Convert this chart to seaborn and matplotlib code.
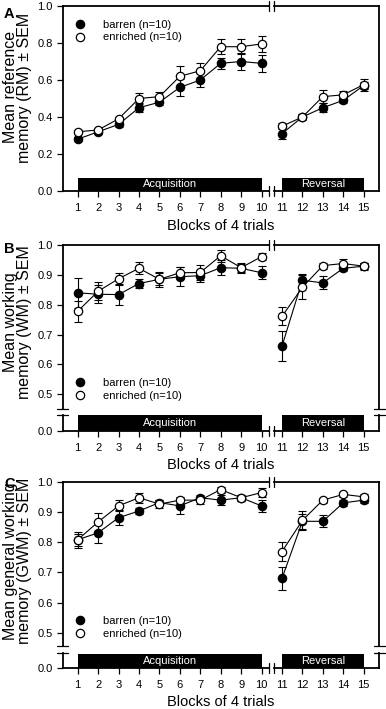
import numpy as np
import pandas as pd
import matplotlib
matplotlib.use("Agg")
import matplotlib.pyplot as plt
import seaborn as sns
from matplotlib.lines import Line2D

# ---------------- data ----------------
blocks = list(range(1, 16))
phase = ["Acquisition"] * 10 + ["Reversal"] * 5

rm_barren = [0.28, 0.32, 0.36, 0.45, 0.48, 0.56, 0.60, 0.69, 0.70, 0.69,
             0.31, 0.40, 0.45, 0.49, 0.57]
rm_barren_sem = [0.012, 0.010, 0.012, 0.023, 0.015, 0.045, 0.036, 0.030, 0.045, 0.045,
                 0.028, 0.015, 0.023, 0.015, 0.020]
rm_enriched = [0.32, 0.33, 0.39, 0.50, 0.51, 0.62, 0.65, 0.78, 0.78, 0.795,
               0.35, 0.40, 0.51, 0.52, 0.575]
rm_enriched_sem = [0.010, 0.010, 0.010, 0.030, 0.027, 0.054, 0.043, 0.041, 0.040, 0.045,
                   0.015, 0.010, 0.036, 0.022, 0.032]

wm_barren = [0.840, 0.835, 0.834, 0.871, 0.885, 0.894, 0.897, 0.924, 0.922, 0.907,
             0.661, 0.882, 0.873, 0.922, 0.929]
wm_barren_sem = [0.051, 0.030, 0.035, 0.015, 0.020, 0.033, 0.020, 0.025, 0.015, 0.022,
                 0.050, 0.020, 0.022, 0.010, 0.010]
wm_enriched = [0.778, 0.845, 0.887, 0.922, 0.885, 0.907, 0.908, 0.964, 0.924, 0.961,
               0.761, 0.858, 0.931, 0.938, 0.929]
wm_enriched_sem = [0.036, 0.030, 0.020, 0.020, 0.025, 0.020, 0.025, 0.020, 0.015, 0.012,
                   0.030, 0.040, 0.010, 0.015, 0.012]

gwm_barren = [0.808, 0.831, 0.881, 0.903, 0.931, 0.920, 0.947, 0.939, 0.947, 0.920,
              0.680, 0.869, 0.869, 0.930, 0.939]
gwm_barren_sem = [0.020, 0.033, 0.025, 0.010, 0.010, 0.027, 0.010, 0.017, 0.010, 0.020,
                  0.037, 0.025, 0.020, 0.010, 0.008]
gwm_enriched = [0.808, 0.867, 0.920, 0.947, 0.926, 0.939, 0.939, 0.974, 0.947, 0.964,
                0.769, 0.872, 0.939, 0.958, 0.950]
gwm_enriched_sem = [0.027, 0.030, 0.018, 0.017, 0.012, 0.010, 0.012, 0.010, 0.010, 0.015,
                    0.030, 0.032, 0.008, 0.008, 0.010]

group_labels = ["barren (n=10)", "enriched (n=10)"]
phase_labels = ["Acquisition", "Reversal"]
phase_spans = [(1, 10), (11, 15)]
xlabel_text = "Blocks of 4 trials"
ylabels = ["Mean reference\nmemory (RM) \u00b1 SEM",
           "Mean working\nmemory (WM) \u00b1 SEM",
           "Mean general working\nmemory (GWM) \u00b1 SEM"]
panel_letters = ["A", "B", "C"]
yticks_a = [0.0, 0.2, 0.4, 0.6, 0.8, 1.0]
yticks_bc = [0.0, 0.5, 0.6, 0.7, 0.8, 0.9, 1.0]

# ---------------- style ----------------
sns.set_theme(style="ticks")
plt.rcParams["font.family"] = ["Liberation Sans", "DejaVu Sans"]
plt.rcParams.update({
    "axes.edgecolor": "black", "text.color": "black", "axes.labelcolor": "black",
    "xtick.color": "black", "ytick.color": "black",
    "xtick.direction": "out", "ytick.direction": "out",
    "xtick.major.size": 4.2, "ytick.major.size": 4.2,
    "xtick.major.width": 0.9, "ytick.major.width": 0.9,
    "xtick.labelsize": 8, "ytick.labelsize": 8,
    "xtick.major.pad": 4.5, "ytick.major.pad": 2.8,
    "axes.linewidth": 1.3,
})

W, H = 386, 709
fig = plt.figure(figsize=(W / 100, H / 100), dpi=100)

left_px, right_px = 62.5, 379.0
boxes = [(6.0, 191.0), (245.0, 430.7), (481.7, 668.3)]
y0s = [None, 0.378, 0.383]
bar_h = [0.072, 0.0845, 0.077]
ybreaks = [None, (0.0845, 0.115), (0.082, 0.12)]
ylab_y = [0.56, 0.586, 0.575]
leg_loc = [("upper left", (0.025, 0.950)), ("lower left", (0.025, 0.138)),
           ("lower left", (0.025, 0.133))]
letter_base = [18, 253, 488]
xlab_pad = [4.5, 4.0, 3.0]

datasets = [
    (rm_barren, rm_barren_sem, rm_enriched, rm_enriched_sem),
    (wm_barren, wm_barren_sem, wm_enriched, wm_enriched_sem),
    (gwm_barren, gwm_barren_sem, gwm_enriched, gwm_enriched_sem),
]

XB = (0.653, 0.667)
LW = 1.3


def make_scale(y0, yb=0.45):
    def fwd(y):
        y = np.asarray(y, dtype=float)
        return np.where(y >= yb, y, y0 + y * (yb - y0) / yb)

    def inv(u):
        u = np.asarray(u, dtype=float)
        return np.where(u >= yb, u, (u - y0) * yb / (yb - y0))
    return fwd, inv


for i, (top, bot) in enumerate(boxes):
    ax = fig.add_axes([left_px / W, 1 - bot / H, (right_px - left_px) / W, (bot - top) / H])
    bvals, bsem, evals, esem = datasets[i]

    df = pd.DataFrame({
        "block": blocks * 2,
        "value": bvals + evals,
        "err": bsem + esem,
        "group": [group_labels[0]] * 15 + [group_labels[1]] * 15,
        "phase": phase * 2,
    })

    if y0s[i] is not None:
        fwd, inv = make_scale(y0s[i])
        ax.set_yscale("function", functions=(fwd, inv))

    for g in group_labels:
        sub = df[df["group"] == g]
        ax.errorbar(sub["block"], sub["value"], yerr=sub["err"], fmt="none", ecolor="black",
                    elinewidth=0.8, capsize=3, capthick=0.8, zorder=2)

    for g, fc, z in [(group_labels[0], "black", 3), (group_labels[1], "white", 4)]:
        for ph in phase_labels:
            sub = df[(df["group"] == g) & (df["phase"] == ph)]
            sns.lineplot(data=sub, x="block", y="value", ax=ax, color="black",
                         linewidth=0.8, marker="o", markersize=6,
                         markerfacecolor=fc, markeredgecolor="black",
                         markeredgewidth=0.9, estimator=None, sort=False,
                         legend=False, zorder=z)

    ax.set_xlim(0.256, 15.75)
    ax.set_ylim(0.0, 1.0)
    ax.set_xticks(blocks)
    ax.set_xticklabels([str(b) for b in blocks])
    yt = yticks_a if i == 0 else yticks_bc
    ax.set_yticks(yt)
    ax.set_yticklabels([f"{v:.1f}" for v in yt])
    ax.minorticks_off()
    ax.tick_params(top=False, right=False)

    for (a, b), lab in zip(phase_spans, phase_labels):
        ax.axvspan(a, b, ymin=0, ymax=bar_h[i], color="black", lw=0, zorder=1)
        ax.text((a + b) / 2, bar_h[i] / 2, lab, transform=ax.get_xaxis_transform(),
                color="white", ha="center", va="center", fontsize=8, zorder=5)

    for s in ["top", "bottom"]:
        ax.spines[s].set_visible(False)
    dy = 5.0 / (bot - top)
    for yy in (0, 1):
        ax.add_line(Line2D([0, XB[0]], [yy, yy], transform=ax.transAxes, color="black",
                           lw=LW, clip_on=False, solid_capstyle="projecting"))
        ax.add_line(Line2D([XB[1], 1], [yy, yy], transform=ax.transAxes, color="black",
                           lw=LW, clip_on=False, solid_capstyle="projecting"))
        for xx in XB:
            ax.add_line(Line2D([xx, xx], [yy - dy, yy + dy], transform=ax.transAxes,
                               color="black", lw=0.9, clip_on=False))
    if ybreaks[i] is not None:
        for s in ["left", "right"]:
            ax.spines[s].set_visible(False)
        yb1, yb2 = ybreaks[i]
        dx = 5.5 / (right_px - left_px)
        for xx in (0, 1):
            ax.add_line(Line2D([xx, xx], [0, yb1], transform=ax.transAxes, color="black",
                               lw=LW, clip_on=False, solid_capstyle="projecting"))
            ax.add_line(Line2D([xx, xx], [yb2, 1], transform=ax.transAxes, color="black",
                               lw=LW, clip_on=False, solid_capstyle="projecting"))
            for yy in (yb1, yb2):
                ax.add_line(Line2D([xx - dx, xx + dx], [yy, yy], transform=ax.transAxes,
                                   color="black", lw=0.9, clip_on=False))

    ax.set_xlabel(xlabel_text, fontsize=10.5, labelpad=xlab_pad[i])
    ax.set_ylabel(ylabels[i], fontsize=11.5, linespacing=0.95)
    ax.yaxis.set_label_coords(-0.095, ylab_y[i])

    handles = [
        Line2D([], [], ls="none", marker="o", markersize=6, markerfacecolor="black",
               markeredgecolor="black", markeredgewidth=0.9),
        Line2D([], [], ls="none", marker="o", markersize=6, markerfacecolor="white",
               markeredgecolor="black", markeredgewidth=0.9),
    ]
    loc, anchor = leg_loc[i]
    ax.legend(handles, group_labels, loc=loc, bbox_to_anchor=anchor, frameon=False,
              fontsize=8, handlelength=1.0, handletextpad=1.5, labelspacing=0.25,
              borderaxespad=0)

    fig.text(4 / W, 1 - letter_base[i] / H, panel_letters[i], fontsize=10.5,
             fontweight="bold", va="baseline", ha="left")

fig.savefig("out.png", dpi=100)
